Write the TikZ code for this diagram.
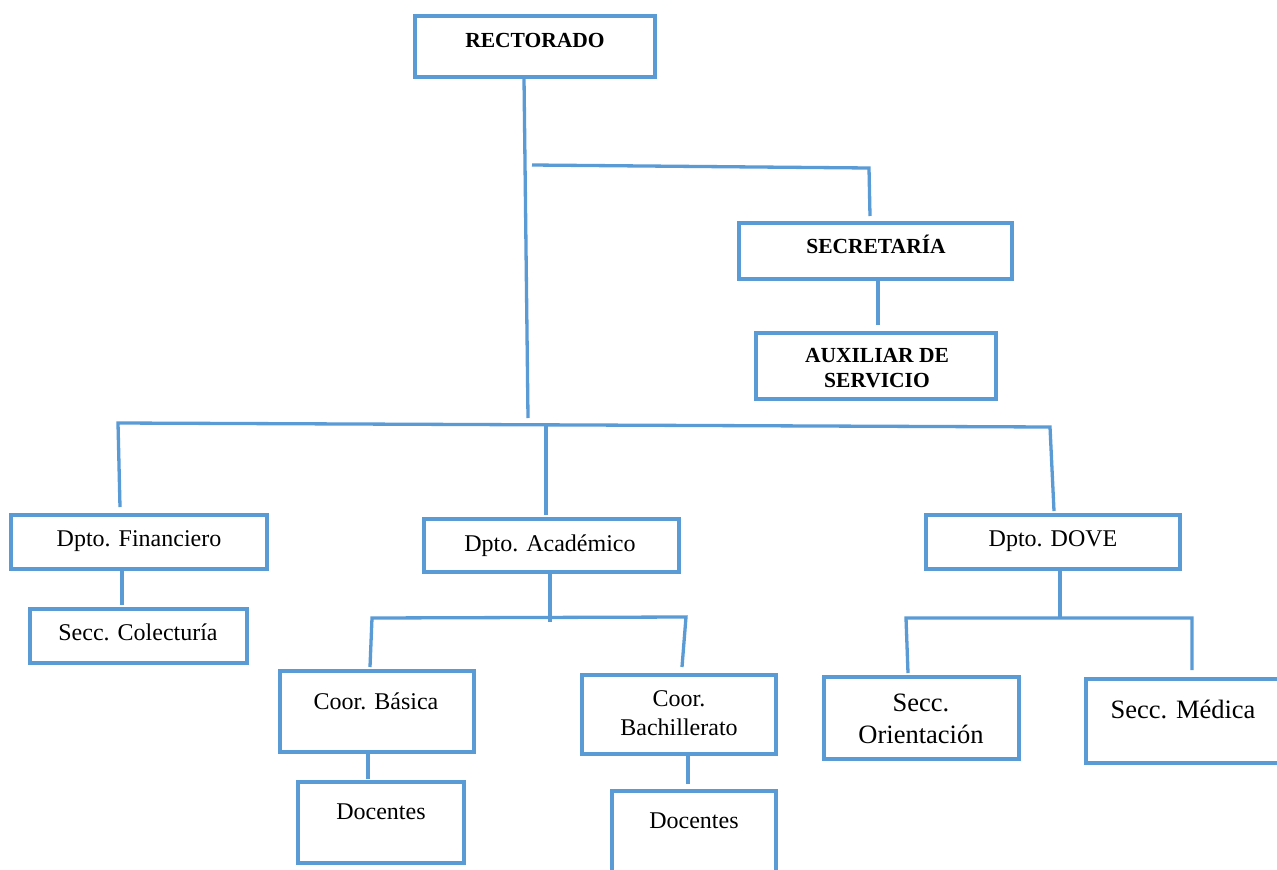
\documentclass[tikz,border=0pt]{standalone}
\usepackage{fontspec}
\setmainfont{Liberation Serif}
\definecolor{orgblue}{RGB}{91,155,213}
\tikzset{
  unitbox/.style={draw=orgblue, line width=3.3pt, rectangle, inner sep=0pt},
  link/.style={draw=orgblue, line width=3.3pt},
  reg/.style={anchor=base, inner sep=0pt, font=\fontsize{24}{29}\selectfont},
  big/.style={anchor=base, inner sep=0pt, font=\fontsize{26.5}{31}\selectfont},
  bld/.style={anchor=base, inner sep=0pt, font=\fontsize{21.5}{24}\selectfont\bfseries},
}
\begin{document}
\begin{tikzpicture}[x=1pt, y=-1pt]
\fill[white] (0,0) rectangle (1277,870);
\useasboundingbox (0,0) rectangle (1277,870);
\clip (0,0) rectangle (1277,870);

% boxes
\node[unitbox, minimum width=240pt, minimum height=61pt] (rect) at (535,46.5) {};
\node[unitbox, minimum width=273pt, minimum height=56pt] (sec)  at (875.5,251) {};
\node[unitbox, minimum width=240pt, minimum height=66pt] (aux)  at (876,366) {};
\node[unitbox, minimum width=256pt, minimum height=54pt] (fin)  at (139,542) {};
\node[unitbox, minimum width=217pt, minimum height=54pt] (col)  at (138.5,636) {};
\node[unitbox, minimum width=255pt, minimum height=53pt] (aca)  at (551.5,545.5) {};
\node[unitbox, minimum width=254pt, minimum height=54pt] (dove) at (1053,542) {};
\node[unitbox, minimum width=194pt, minimum height=81pt] (bas)  at (377,711.5) {};
\node[unitbox, minimum width=194pt, minimum height=79pt] (bach) at (679,714.5) {};
\node[unitbox, minimum width=166pt, minimum height=81pt] (docA) at (381,822.5) {};
\node[unitbox, minimum width=164pt, minimum height=100pt] (docB) at (694,841) {};
\node[unitbox, minimum width=195pt, minimum height=82pt] (ori)  at (921.5,718) {};
\node[unitbox, minimum width=220pt, minimum height=84pt] (med)  at (1196,721) {};

% labels
\node[bld] (tRect) at (535,47) {RECTORADO};
\node[bld] (tSec)  at (876,253) {SECRETARÍA};
\node[bld] (tAuxA) at (877,362.7) {AUXILIAR DE};
\node[bld] (tAuxB) at (877,387) {SERVICIO};
\node[reg] (tFin)  at (139,546) {Dpto. Financiero};
\node[reg] (tCol)  at (138,640) {Secc. Colecturía};
\node[reg] (tAca)  at (550,551) {Dpto. Académico};
\node[reg] (tDove) at (1053,546) {Dpto. DOVE};
\node[reg] (tBas)  at (376,709) {Coor. Básica};
\node[reg] (tBchA) at (679,706.7) {Coor.};
\node[reg] (tBchB) at (679,735.7) {Bachillerato};
\node[reg] (tDocA) at (381,819) {Docentes};
\node[reg] (tDocB) at (694,828) {Docentes};
\node[big] (tOriA) at (921,711.7) {Secc.};
\node[big] (tOriB) at (921,743.3) {Orientación};
\node[big] (tMed)  at (1183,718) {Secc. Médica};

% junction points
\coordinate (rTop)  at (524,78);
\coordinate (rBot)  at (528,418);
\coordinate (sA)    at (532,165);
\coordinate (sB)    at (869,168);
\coordinate (sC)    at (870,216);
\coordinate (axA)   at (878,281);
\coordinate (axB)   at (878,325);
\coordinate (hL)    at (118,423);
\coordinate (hR)    at (1050,427);
\coordinate (finT)  at (120,507);
\coordinate (doveT) at (1054,511);
\coordinate (acaA)  at (546,425);
\coordinate (acaT)  at (546,515);
\coordinate (colA)  at (122,571);
\coordinate (colB)  at (122,605);
\coordinate (acaB)  at (550,574);
\coordinate (acaC)  at (550,622);
\coordinate (basT)  at (370,667);
\coordinate (kL)    at (372,618);
\coordinate (kR)    at (686,617);
\coordinate (bachT) at (682,667);
\coordinate (dA1)   at (368,754);
\coordinate (dA2)   at (368,779);
\coordinate (dB1)   at (688,754);
\coordinate (dB2)   at (688,784);
\coordinate (dvA)   at (1060,571);
\coordinate (dvB)   at (1060,618);
\coordinate (oriT)  at (908,673);
\coordinate (qL)    at (906,618);
\coordinate (qR)    at (1192,618);
\coordinate (medT)  at (1192,670);

% connectors
\draw[link] (rTop) -- (rBot);
\draw[link] (sA) -- (sB) -- (sC);
\draw[link] (axA) -- (axB);
\draw[link] (finT) -- (hL) -- (hR) -- (doveT);
\draw[link] (acaA) -- (acaT);
\draw[link] (colA) -- (colB);
\draw[link] (acaB) -- (acaC);
\draw[link] (basT) -- (kL) -- (kR) -- (bachT);
\draw[link] (dA1) -- (dA2);
\draw[link] (dB1) -- (dB2);
\draw[link] (dvA) -- (dvB);
\draw[link] (oriT) -- (qL) -- (qR) -- (medT);
\end{tikzpicture}
\end{document}
